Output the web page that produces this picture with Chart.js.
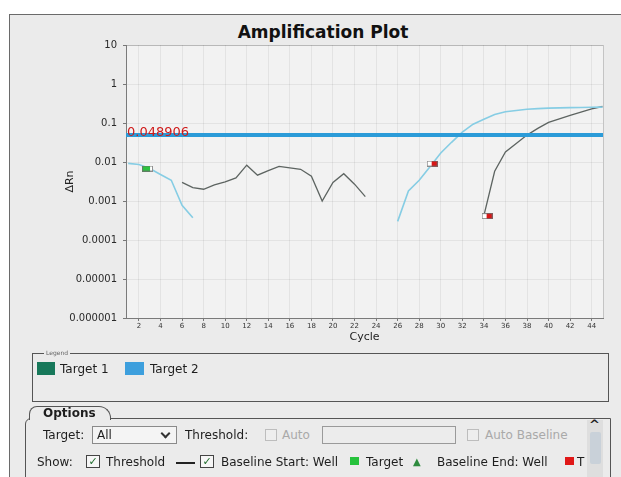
<!DOCTYPE html>
<html>
<head>
<meta charset="utf-8">
<title>Amplification Plot</title>
<script src="https://cdn.jsdelivr.net/npm/chart.js@4.4.1/dist/chart.umd.min.js"></script>
<style>
  body { margin: 0; width: 621px; height: 477px; overflow: hidden; position: relative; background: #fff; font-family: "DejaVu Sans", sans-serif; color: #1e1e1e; }
  .abs { position: absolute; white-space: nowrap; }
  #screen { left: 9px; top: 14px; width: 612px; height: 463px; background: #ebebeb; border-left: 1px solid #6a6a6a; border-top: 1px solid #6a6a6a; box-sizing: border-box; }
  #plot { position: absolute; left: 0; top: 0; }
  #title { left: 123px; top: 22px; width: 400px; text-align: center; font: bold 17px "DejaVu Sans", sans-serif; color: #111; }
  .ui { font-size: 12px; line-height: 16px; }
  .box { border: 1px solid #555; box-sizing: border-box; }
  .cb { width: 14px; height: 13px; border: 1px solid #444; background: #f6f6f6; box-sizing: border-box; font-size: 11px; line-height: 11px; text-align: center; color: #1d6b2a; }
  .off { border-color: #bdbdbd; background: #eeeeee; }
  .dim { color: #a9a9a9; }
</style>
</head>
<body>
<div id="screen" class="abs"></div>
<div id="title" class="abs">Amplification Plot</div>
<canvas id="plot" width="621" height="350"></canvas>

<div class="abs box" style="left:32px;top:353px;width:577px;height:49px;"></div>
<div class="abs" style="left:44px;top:349px;font-size:6px;line-height:7px;background:#ebebeb;color:#666;padding:0 2px;">Legend</div>
<div class="abs" style="left:37px;top:362px;width:18px;height:13px;background:#17785a;"></div>
<div class="abs ui" style="left:60px;top:361px;">Target 1</div>
<div class="abs" style="left:125px;top:362px;width:19px;height:13px;background:#3d9fdd;"></div>
<div class="abs ui" style="left:150px;top:361px;">Target 2</div>

<div class="abs box" style="left:25px;top:418px;width:586px;height:70px;border-radius:6px 0 0 0;"></div>
<div class="abs box" style="left:29px;top:406px;width:82px;height:14px;border-bottom:none;border-radius:8px 12px 0 0;background:#ebebeb;"></div>
<div class="abs" style="left:43px;top:405px;font:bold 12px 'DejaVu Sans',sans-serif;line-height:16px;">Options</div>

<div class="abs ui" style="left:43px;top:427px;">Target:</div>
<div class="abs" style="left:92px;top:426px;width:85px;height:18px;border:1px solid #8a8a8a;background:#f4f4f4;box-sizing:border-box;"></div>
<div class="abs ui" style="left:97px;top:427px;">All</div>
<div class="abs" style="left:162px;top:430px;width:5px;height:5px;border-right:2px solid #333;border-bottom:2px solid #333;transform:rotate(45deg);"></div>
<div class="abs ui" style="left:185px;top:427px;">Threshold:</div>
<div class="abs cb off" style="left:265px;top:429px;width:12px;height:12px;"></div>
<div class="abs ui dim" style="left:282px;top:427px;">Auto</div>
<div class="abs" style="left:322px;top:426px;width:134px;height:18px;border:1px solid #9a9a9a;background:#ececec;box-sizing:border-box;"></div>
<div class="abs cb off" style="left:467px;top:429px;width:12px;height:12px;"></div>
<div class="abs ui dim" style="left:485px;top:427px;">Auto Baseline</div>
<div class="abs" style="left:587px;top:420px;width:16px;height:57px;background:#dedede;"></div>
<div class="abs" style="left:590px;top:432px;width:11px;height:32px;background:#c9d1d9;border-radius:2px;"></div>
<div class="abs" style="left:589px;top:417px;font:bold 13px 'DejaVu Sans',sans-serif;">^</div>

<div class="abs ui" style="left:37px;top:454px;">Show:</div>
<div class="abs cb" style="left:86px;top:455px;">✓</div>
<div class="abs ui" style="left:106px;top:454px;">Threshold</div>
<div class="abs" style="left:176px;top:462px;width:19px;height:2px;background:#222;"></div>
<div class="abs cb" style="left:200px;top:455px;">✓</div>
<div class="abs ui" style="left:221px;top:454px;">Baseline Start: Well</div>
<div class="abs" style="left:350px;top:457px;width:9px;height:8px;background:#26c23c;"></div>
<div class="abs ui" style="left:366px;top:454px;">Target</div>
<div class="abs" style="left:413px;top:454px;font-size:10px;line-height:16px;color:#2e8b3e;">▲</div>
<div class="abs ui" style="left:437px;top:454px;">Baseline End: Well</div>
<div class="abs" style="left:565px;top:457px;width:9px;height:8px;background:#e01818;"></div>
<div class="abs ui" style="left:577px;top:454px;">T</div>

<script>
// axis ticks and range (cycles / delta Rn)
const xTicks = [2, 4, 6, 8, 10, 12, 14, 16, 18, 20, 22, 24, 26, 28, 30, 32, 34, 36, 38, 40, 42, 44];
const yTicks = [0.000001, 0.00001, 0.0001, 0.001, 0.01, 0.1, 1, 10];
const yTickLabels = ["0.000001", "0.00001", "0.0001", "0.001", "0.01", "0.1", "1", "10"];
const xMin = 0.8;
const xMax = 45.05;
const threshold = 0.048906;

// light blue traces
const blueEarlyCycles = [1, 2, 3, 4, 5, 6, 7];
const blueEarlyDRn = [0.0092, 0.0086, 0.0068, 0.0048, 0.0034, 0.00078, 0.00037];
const blueLateCycles = [26, 27, 28, 29, 30, 31, 32, 33, 34, 35, 36, 37, 38, 39, 40, 41, 42, 43, 44, 45];
const blueLateDRn = [0.0003, 0.0018, 0.0034, 0.0076, 0.017, 0.032, 0.058, 0.093, 0.125, 0.165,
                     0.195, 0.21, 0.225, 0.233, 0.24, 0.244, 0.248, 0.25, 0.253, 0.256];

// gray traces
const grayEarlyCycles = [6, 7, 8, 9, 10, 11, 12, 13, 14, 15, 16, 17, 18, 19, 20, 21, 22, 23];
const grayEarlyDRn = [0.0030, 0.0022, 0.0020, 0.0026, 0.0031, 0.0039, 0.0083, 0.0046, 0.0060,
                      0.0077, 0.0071, 0.0065, 0.0043, 0.0010, 0.0030, 0.0050, 0.0027, 0.0013];
const grayLateCycles = [34, 35, 36, 37, 38, 39, 40, 41, 42, 43, 44, 45];
const grayLateDRn = [0.00042, 0.0058, 0.018, 0.030, 0.049, 0.073, 0.104, 0.128, 0.157, 0.19, 0.23, 0.265];

// baseline markers
const startMarkCycles = [2.8];
const startMarkDRn = [0.0068];
const endMarkCycles = [29.2, 34.3];
const endMarkDRn = [0.0091, 0.00041];

function toPoints(xs, ys) {
    return xs.map((x, i) => ({ x: x, y: ys[i] }));
}

function markerImage(color, colorRight) {
    const c = document.createElement("canvas");
    c.width = 11;
    c.height = 6;
    const g = c.getContext("2d");
    g.fillStyle = "#fff";
    g.fillRect(0, 0, 11, 6);
    g.fillStyle = color;
    if (colorRight) g.fillRect(5, 0, 6, 6);
    else g.fillRect(0, 0, 8, 6);
    g.strokeStyle = "rgba(110,110,110,0.8)";
    g.strokeRect(0.5, 0.5, 10, 5);
    return c;
}

const plotFrame = {
    id: "plotFrame",
    beforeDraw(chart) {
        const { ctx, chartArea: a } = chart;
        ctx.save();
        ctx.fillStyle = "#f2f2f2";
        ctx.fillRect(a.left, a.top, a.right - a.left, a.bottom - a.top);
        ctx.strokeStyle = "#c4c4c4";
        ctx.lineWidth = 1;
        ctx.strokeRect(a.left + 0.5, a.top + 0.5, a.right - a.left, a.bottom - a.top);
        ctx.restore();
    }
};

const thresholdLabel = {
    id: "thresholdLabel",
    afterDatasetsDraw(chart) {
        const { ctx, chartArea, scales } = chart;
        const y = scales.y.getPixelForValue(threshold);
        ctx.save();
        ctx.font = '13px "DejaVu Sans"';
        ctx.fillStyle = "#cf1a1a";
        ctx.fillText(String(threshold), chartArea.left + 1, y + 1);
        ctx.restore();
    }
};

const font = "DejaVu Sans";

new Chart(document.getElementById("plot"), {
    type: "line",
    data: {
        datasets: [
            {
                label: "Baseline Start",
                data: toPoints(startMarkCycles, startMarkDRn),
                showLine: false,
                pointStyle: markerImage("#2cc33f", false),
                pointRadius: 5
            },
            {
                label: "Baseline End",
                data: toPoints(endMarkCycles, endMarkDRn),
                showLine: false,
                pointStyle: markerImage("#d81616", true),
                pointRadius: 5
            },
            {
                label: "Threshold",
                data: [{ x: xMin, y: threshold }, { x: xMax, y: threshold }],
                borderColor: "#2b9bd8",
                borderWidth: 4,
                pointRadius: 0
            },
            {
                label: "Target 2 a",
                data: toPoints(blueEarlyCycles, blueEarlyDRn),
                borderColor: "#86cde4",
                borderWidth: 1.6,
                pointRadius: 0
            },
            {
                label: "Target 2 b",
                data: toPoints(blueLateCycles, blueLateDRn),
                borderColor: "#86cde4",
                borderWidth: 1.6,
                pointRadius: 0
            },
            {
                label: "Target 1 a",
                data: toPoints(grayEarlyCycles, grayEarlyDRn),
                borderColor: "#5d6461",
                borderWidth: 1.3,
                pointRadius: 0
            },
            {
                label: "Target 1 b",
                data: toPoints(grayLateCycles, grayLateDRn),
                borderColor: "#5d6461",
                borderWidth: 1.3,
                pointRadius: 0
            }
        ]
    },
    options: {
        responsive: false,
        animation: false,
        devicePixelRatio: 1,
        layout: { padding: { left: 60, right: 18, top: 45, bottom: 4 } },
        plugins: { legend: { display: false }, tooltip: { enabled: false } },
        scales: {
            x: {
                type: "linear",
                min: xMin,
                max: xMax,
                afterBuildTicks: s => { s.ticks = xTicks.map(v => ({ value: v })); },
                afterFit: s => { s.height = 28; },
                ticks: { font: { family: font, size: 7 }, color: "#333", padding: 1, autoSkip: false, maxRotation: 0 },
                grid: { color: "rgba(0,0,0,0.06)", tickColor: "#777", tickLength: 3 },
                border: { color: "#7a7a7a" },
                title: { display: true, text: "Cycle", font: { family: font, size: 11 }, color: "#222", padding: { top: 0, bottom: 2 } }
            },
            y: {
                type: "logarithmic",
                min: yTicks[0],
                max: yTicks[yTicks.length - 1],
                afterBuildTicks: s => { s.ticks = yTicks.map(v => ({ value: v })); },
                afterFit: s => { s.width = 66; },
                ticks: {
                    font: { family: font, size: 10 },
                    color: "#2a2a2a",
                    padding: 6,
                    callback: v => yTickLabels[yTicks.indexOf(v)]
                },
                grid: { color: "rgba(0,0,0,0.06)", tickColor: "#777", tickLength: 3 },
                border: { color: "#7a7a7a" },
                title: { display: true, text: "ΔRn", font: { family: font, size: 11 }, color: "#222", padding: { top: 4, bottom: 0 } }
            }
        }
    },
    plugins: [plotFrame, thresholdLabel]
});
</script>
</body>
</html>
